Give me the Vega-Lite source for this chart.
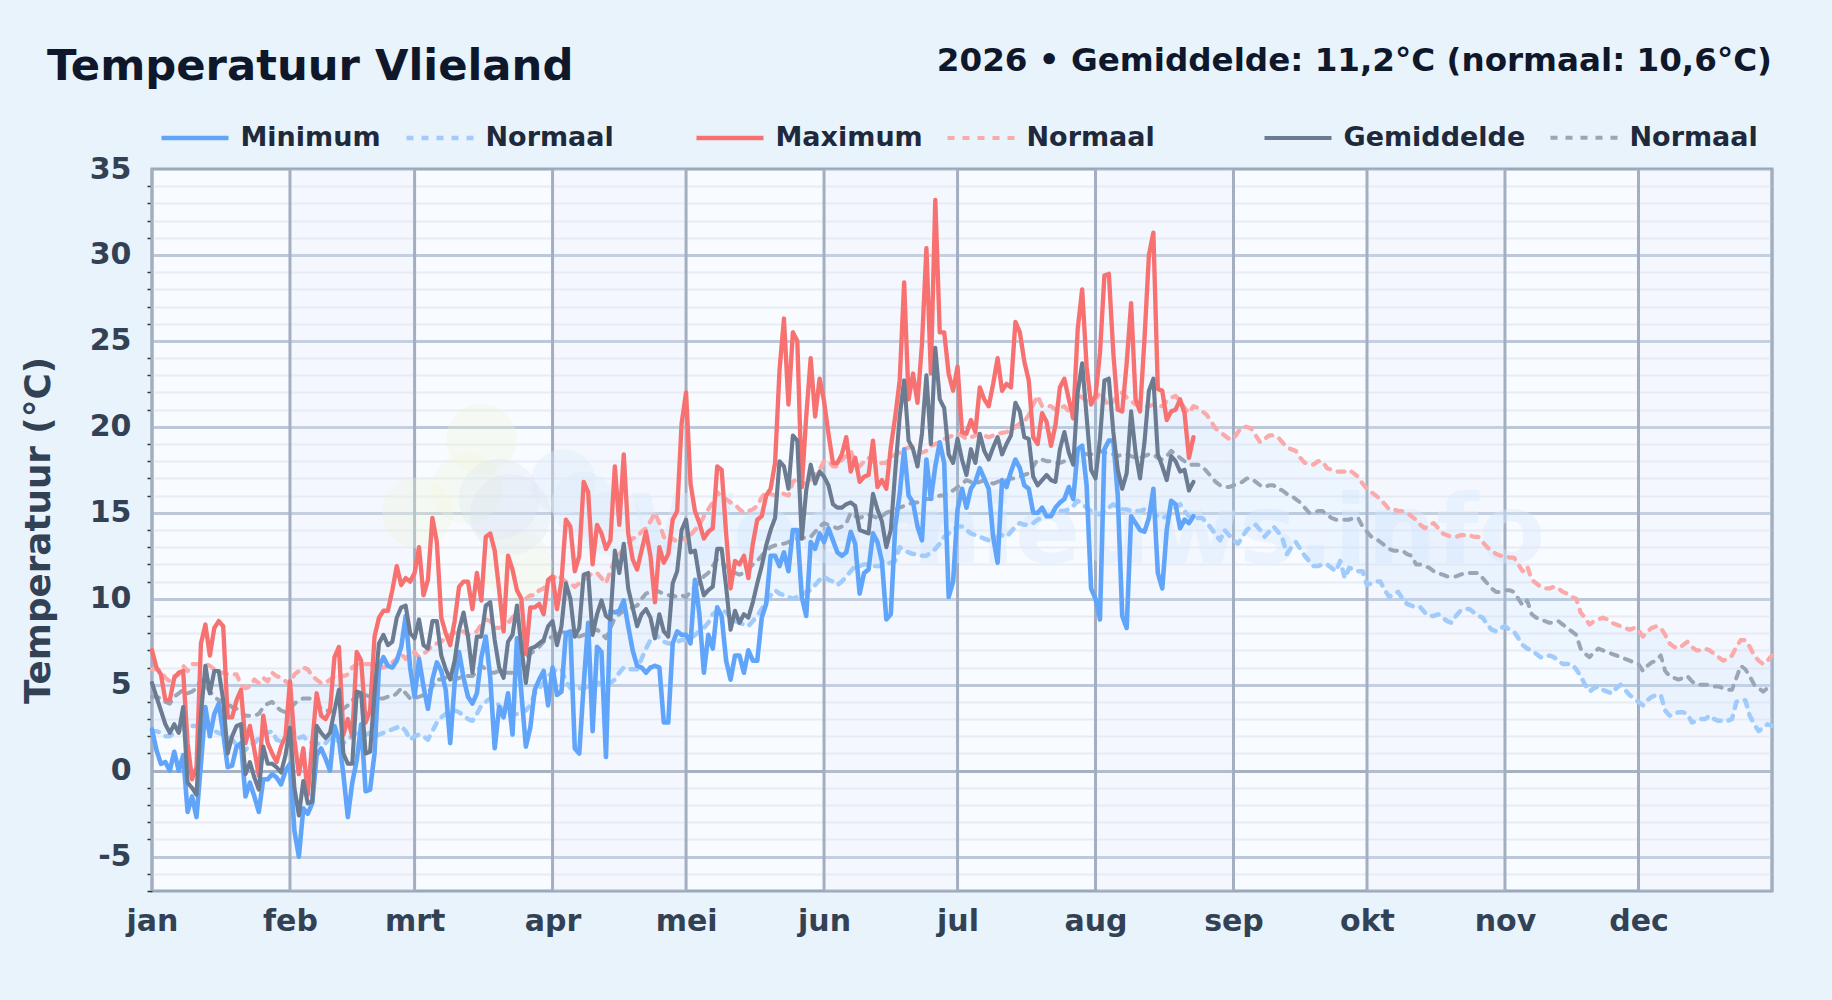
{"$schema":"https://vega.github.io/schema/vega-lite/v6.json","width":1620,"height":722,"autosize":"none","padding":{"left":152,"top":169,"right":60,"bottom":109},"background":"#e8f3fc","view":{"fill":"#f8fbff","stroke":"#9aa8bb","strokeWidth":3},"title":{"text":"Temperatuur Vlieland","anchor":"start","frame":"group","dx":-105,"offset":0,"dy":78,"baseline":"alphabetic","font":"DejaVu Sans","fontSize":43.3,"fontWeight":"bold","color":"#0f172a"},"datasets":{"maanden":[{"van":32,"tot":60},{"van":91,"tot":121},{"van":152,"tot":182},{"van":213,"tot":244},{"van":274,"tot":305},{"van":335,"tot":365}],"lijnen":[{"dag":1},{"dag":32},{"dag":60},{"dag":91},{"dag":121},{"dag":152},{"dag":182},{"dag":213},{"dag":244},{"dag":274},{"dag":305},{"dag":335},{"dag":365}],"groen":[{"dag":75,"t":19.3},{"dag":60.6,"t":15},{"dag":83,"t":11.9},{"dag":71.8,"t":16.4}],"grijs":[{"dag":79,"t":15.8},{"dag":81.5,"t":14.9}],"lichtblauw":[{"dag":93.4,"t":16.8},{"dag":104,"t":14.4},{"dag":98,"t":15.5}],"merk":[{"dag":314,"t":12.1,"tekst":"Weernieuws.info"}],"kop":[{"dag":365,"t":35,"tekst":"2026 • Gemiddelde: 11,2°C (normaal: 10,6°C)"}],"dagen":[
{"dag":1,"min":2.4,"gem":5.1,"max":7,"nmin":2.3,"ngem":4.3,"nmax":5.9},
{"dag":2,"min":1.2,"gem":4.3,"max":6,"nmin":2.3,"ngem":4.3,"nmax":5.9},
{"dag":3,"min":0.4,"gem":3.5,"max":5.6,"nmin":2.2,"ngem":4.2,"nmax":5.8},
{"dag":4,"min":0.5,"gem":2.7,"max":4.1,"nmin":2,"ngem":4,"nmax":5.4},
{"dag":5,"min":0,"gem":2.2,"max":4.1,"nmin":2,"ngem":3.9,"nmax":5.2},
{"dag":6,"min":1.1,"gem":2.7,"max":5.4,"nmin":2.2,"ngem":4.3,"nmax":5.5},
{"dag":7,"min":0,"gem":2.2,"max":5.7,"nmin":2.3,"ngem":4.5,"nmax":5.6},
{"dag":8,"min":0.9,"gem":3.7,"max":5.8,"nmin":2.5,"ngem":4.7,"nmax":6.1},
{"dag":9,"min":-2.4,"gem":-0.7,"max":1.6,"nmin":2.6,"ngem":4.5,"nmax":5.8},
{"dag":10,"min":-1.5,"gem":-1,"max":-0.5,"nmin":2.6,"ngem":4.6,"nmax":6.2},
{"dag":11,"min":-2.7,"gem":-1.4,"max":0.2,"nmin":2.6,"ngem":4.8,"nmax":6.2},
{"dag":12,"min":0.4,"gem":3.3,"max":7.4,"nmin":2.9,"ngem":5.3,"nmax":6.2},
{"dag":13,"min":3.7,"gem":6.1,"max":8.5,"nmin":2.6,"ngem":5,"nmax":6.2},
{"dag":14,"min":2,"gem":4.5,"max":6.7,"nmin":2.4,"ngem":4.6,"nmax":6.1},
{"dag":15,"min":3.3,"gem":5.8,"max":8.3,"nmin":2.3,"ngem":4.3,"nmax":5.9},
{"dag":16,"min":3.9,"gem":5.8,"max":8.7,"nmin":2.2,"ngem":4.1,"nmax":5.7},
{"dag":17,"min":2.2,"gem":4.1,"max":8.4,"nmin":2.1,"ngem":4,"nmax":5.7},
{"dag":18,"min":0.2,"gem":1,"max":3.1,"nmin":2,"ngem":3.9,"nmax":5.6},
{"dag":19,"min":0.3,"gem":2,"max":3.1,"nmin":1.8,"ngem":3.7,"nmax":5.6},
{"dag":20,"min":1.4,"gem":2.6,"max":4.1,"nmin":1.5,"ngem":3.6,"nmax":5.6},
{"dag":21,"min":1.6,"gem":2.7,"max":4.7,"nmin":1.3,"ngem":3.4,"nmax":5},
{"dag":22,"min":-1.5,"gem":-0.2,"max":1.6,"nmin":1.2,"ngem":3.2,"nmax":4.8},
{"dag":23,"min":-0.7,"gem":0.5,"max":2.6,"nmin":1.5,"ngem":3.2,"nmax":4.9},
{"dag":24,"min":-1.5,"gem":-0.4,"max":1.2,"nmin":1.6,"ngem":3.2,"nmax":5.3},
{"dag":25,"min":-2.4,"gem":-1.1,"max":-0.3,"nmin":1.9,"ngem":3.3,"nmax":5.1},
{"dag":26,"min":-0.5,"gem":1.4,"max":3.2,"nmin":2.1,"ngem":3.7,"nmax":5.4},
{"dag":27,"min":-0.5,"gem":0.4,"max":1.6,"nmin":2.2,"ngem":3.9,"nmax":5.2},
{"dag":28,"min":-0.2,"gem":0.4,"max":1,"nmin":2.3,"ngem":4,"nmax":5.7},
{"dag":29,"min":-0.4,"gem":0.2,"max":0.5,"nmin":1.8,"ngem":3.7,"nmax":5.5},
{"dag":30,"min":-0.8,"gem":-0.1,"max":1.4,"nmin":1.7,"ngem":3.5,"nmax":5.4},
{"dag":31,"min":0,"gem":0.9,"max":2,"nmin":1.9,"ngem":3.4,"nmax":5.2},
{"dag":32,"min":0.4,"gem":2.5,"max":5.2,"nmin":2.1,"ngem":3.6,"nmax":5},
{"dag":33,"min":-3.5,"gem":-1,"max":1.8,"nmin":2.1,"ngem":3.9,"nmax":5.6},
{"dag":34,"min":-5,"gem":-2.6,"max":-0.2,"nmin":1.9,"ngem":4.1,"nmax":5.8},
{"dag":35,"min":-2.2,"gem":-0.6,"max":1.3,"nmin":2,"ngem":4.2,"nmax":6},
{"dag":36,"min":-2.5,"gem":-1.9,"max":-1.4,"nmin":1.7,"ngem":4.2,"nmax":5.9},
{"dag":37,"min":-1.9,"gem":-1.8,"max":1.6,"nmin":1.6,"ngem":4.2,"nmax":5.5},
{"dag":38,"min":0.9,"gem":2.6,"max":4.5,"nmin":1.6,"ngem":3.9,"nmax":5.3},
{"dag":39,"min":1.3,"gem":2.2,"max":3.2,"nmin":1.5,"ngem":3.6,"nmax":5.1},
{"dag":40,"min":0.7,"gem":1.9,"max":3,"nmin":1.6,"ngem":3.5,"nmax":5.1},
{"dag":41,"min":0,"gem":2.2,"max":3.5,"nmin":1.9,"ngem":3.5,"nmax":5.3},
{"dag":42,"min":2.6,"gem":3.5,"max":6.6,"nmin":1.8,"ngem":3.4,"nmax":5.5},
{"dag":43,"min":1.8,"gem":4.7,"max":7.2,"nmin":1.7,"ngem":3.5,"nmax":5.6},
{"dag":44,"min":-0.2,"gem":1,"max":2.1,"nmin":1.6,"ngem":3.6,"nmax":5.5},
{"dag":45,"min":-2.7,"gem":0.4,"max":3,"nmin":1.8,"ngem":3.8,"nmax":5.6},
{"dag":46,"min":-0.7,"gem":0.4,"max":2,"nmin":2,"ngem":4.1,"nmax":6},
{"dag":47,"min":0.6,"gem":4.6,"max":6.9,"nmin":2.2,"ngem":4.3,"nmax":6.2},
{"dag":48,"min":2.7,"gem":4.5,"max":6.4,"nmin":2.1,"ngem":4.4,"nmax":6.2},
{"dag":49,"min":-1.2,"gem":1,"max":2.8,"nmin":2.1,"ngem":4.4,"nmax":6.2},
{"dag":50,"min":-1.1,"gem":1.1,"max":3.5,"nmin":2.2,"ngem":4.3,"nmax":6.2},
{"dag":51,"min":1,"gem":4.5,"max":7.8,"nmin":2,"ngem":4.2,"nmax":6},
{"dag":52,"min":6,"gem":7.4,"max":8.9,"nmin":2.1,"ngem":4.2,"nmax":6},
{"dag":53,"min":6.6,"gem":7.9,"max":9.3,"nmin":2.2,"ngem":4.2,"nmax":6},
{"dag":54,"min":6.1,"gem":7.3,"max":9.3,"nmin":2.3,"ngem":4.3,"nmax":6.1},
{"dag":55,"min":6,"gem":7.5,"max":10.5,"nmin":2.4,"ngem":4.3,"nmax":6.3},
{"dag":56,"min":6.4,"gem":8.9,"max":11.9,"nmin":2.5,"ngem":4.5,"nmax":6.5},
{"dag":57,"min":7.2,"gem":9.5,"max":10.8,"nmin":2.6,"ngem":4.8,"nmax":6.8},
{"dag":58,"min":9,"gem":9.6,"max":11.2,"nmin":2.3,"ngem":4.5,"nmax":6.5},
{"dag":59,"min":6,"gem":8,"max":11,"nmin":1.8,"ngem":4.2,"nmax":6.8},
{"dag":60,"min":4.3,"gem":7.7,"max":11.5,"nmin":2,"ngem":4.2,"nmax":6.9},
{"dag":61,"min":6.5,"gem":8.8,"max":13,"nmin":2.1,"ngem":4.3,"nmax":6.6},
{"dag":62,"min":4.9,"gem":7.3,"max":10.2,"nmin":2,"ngem":4.4,"nmax":6.8},
{"dag":63,"min":3.6,"gem":7.1,"max":11.1,"nmin":1.8,"ngem":4.5,"nmax":7},
{"dag":64,"min":5.3,"gem":8.7,"max":14.7,"nmin":2.3,"ngem":4.9,"nmax":7.3},
{"dag":65,"min":6.3,"gem":8.7,"max":13.3,"nmin":2.8,"ngem":5.3,"nmax":7.4},
{"dag":66,"min":5.8,"gem":6.7,"max":8.9,"nmin":3.1,"ngem":5.3,"nmax":7.5},
{"dag":67,"min":4.7,"gem":5.9,"max":8,"nmin":3.3,"ngem":5.4,"nmax":7.8},
{"dag":68,"min":1.6,"gem":5.3,"max":7.3,"nmin":3.5,"ngem":5.3,"nmax":7.9},
{"dag":69,"min":5.1,"gem":6.4,"max":8.7,"nmin":3.5,"ngem":5.3,"nmax":8},
{"dag":70,"min":6.9,"gem":8.2,"max":10.7,"nmin":3.4,"ngem":5.4,"nmax":8.1},
{"dag":71,"min":5.4,"gem":9.2,"max":11,"nmin":3.2,"ngem":5.5,"nmax":8.1},
{"dag":72,"min":4.3,"gem":7.8,"max":11,"nmin":3,"ngem":5.5,"nmax":7.9},
{"dag":73,"min":3.9,"gem":5.7,"max":9.4,"nmin":2.9,"ngem":5.5,"nmax":8},
{"dag":74,"min":4.5,"gem":7.8,"max":11.5,"nmin":3.3,"ngem":5.8,"nmax":8.1},
{"dag":75,"min":6.6,"gem":7.8,"max":9.9,"nmin":3.8,"ngem":6.1,"nmax":8.5},
{"dag":76,"min":7.8,"gem":9.6,"max":13.6,"nmin":4,"ngem":5.9,"nmax":8.8},
{"dag":77,"min":5.4,"gem":9.8,"max":13.8,"nmin":4.2,"ngem":5.7,"nmax":8.7},
{"dag":78,"min":1.3,"gem":7.6,"max":12.8,"nmin":4,"ngem":5.7,"nmax":8.3},
{"dag":79,"min":3.7,"gem":6,"max":10.5,"nmin":3.8,"ngem":5.8,"nmax":8.3},
{"dag":80,"min":3.1,"gem":5.4,"max":8.1,"nmin":3.5,"ngem":5.7,"nmax":8.4},
{"dag":81,"min":4.5,"gem":7.5,"max":12.5,"nmin":3.4,"ngem":5.7,"nmax":8.6},
{"dag":82,"min":2.1,"gem":7.9,"max":11.7,"nmin":3.3,"ngem":5.7,"nmax":8.9},
{"dag":83,"min":7.7,"gem":9.6,"max":10.5,"nmin":3.3,"ngem":5.9,"nmax":9.2},
{"dag":84,"min":4.5,"gem":7.2,"max":10,"nmin":3.4,"ngem":6.2,"nmax":9.8},
{"dag":85,"min":1.4,"gem":5.1,"max":6.8,"nmin":3.5,"ngem":6.5,"nmax":10},
{"dag":86,"min":2.5,"gem":7.1,"max":9.5,"nmin":3.8,"ngem":6.8,"nmax":10.2},
{"dag":87,"min":4.7,"gem":7.2,"max":9.5,"nmin":4.5,"ngem":7,"nmax":10.2},
{"dag":88,"min":5.3,"gem":7.4,"max":9.7,"nmin":4.8,"ngem":7.2,"nmax":10.5},
{"dag":89,"min":5.8,"gem":7.6,"max":9.1,"nmin":5.1,"ngem":7.5,"nmax":10.6},
{"dag":90,"min":3.8,"gem":8.4,"max":11.1,"nmin":5.5,"ngem":7.7,"nmax":11},
{"dag":91,"min":6,"gem":8.7,"max":11.3,"nmin":5.7,"ngem":7.8,"nmax":11.1},
{"dag":92,"min":4.4,"gem":7.3,"max":9.4,"nmin":5.9,"ngem":8,"nmax":11.4},
{"dag":93,"min":4.6,"gem":8.4,"max":11,"nmin":5.9,"ngem":8.1,"nmax":11.2},
{"dag":94,"min":8,"gem":10.9,"max":14.6,"nmin":5.2,"ngem":8,"nmax":11},
{"dag":95,"min":8.1,"gem":10,"max":14.2,"nmin":4.8,"ngem":7.9,"nmax":10.9},
{"dag":96,"min":1.3,"gem":7.8,"max":11.6,"nmin":4.7,"ngem":7.8,"nmax":10.7},
{"dag":97,"min":1,"gem":8.3,"max":12.5,"nmin":4.8,"ngem":7.8,"nmax":10.9},
{"dag":98,"min":5,"gem":11.4,"max":16.8,"nmin":4.8,"ngem":7.9,"nmax":11.1},
{"dag":99,"min":8.6,"gem":11.5,"max":16.2,"nmin":4.9,"ngem":8,"nmax":11.3},
{"dag":100,"min":2.3,"gem":7.9,"max":12,"nmin":5,"ngem":8.1,"nmax":11.5},
{"dag":101,"min":7.2,"gem":9.1,"max":14.3,"nmin":5.1,"ngem":8.2,"nmax":11.5},
{"dag":102,"min":6.9,"gem":9.9,"max":13.8,"nmin":5.1,"ngem":8,"nmax":11.2},
{"dag":103,"min":0.8,"gem":9,"max":12.9,"nmin":5,"ngem":7.7,"nmax":10.9},
{"dag":104,"min":9.3,"gem":8.8,"max":13.4,"nmin":5.1,"ngem":8.3,"nmax":11.6},
{"dag":105,"min":9.2,"gem":12.8,"max":17.7,"nmin":5.3,"ngem":8.9,"nmax":12.3},
{"dag":106,"min":9.3,"gem":11.5,"max":14.3,"nmin":5.7,"ngem":9.1,"nmax":12.6},
{"dag":107,"min":9.9,"gem":13.2,"max":18.4,"nmin":6,"ngem":9.3,"nmax":12.9},
{"dag":108,"min":8.4,"gem":10.6,"max":13.8,"nmin":5.9,"ngem":9.4,"nmax":13.2},
{"dag":109,"min":7,"gem":9.5,"max":12.3,"nmin":5.9,"ngem":9.5,"nmax":13.5},
{"dag":110,"min":6.1,"gem":8.4,"max":11.7,"nmin":5.9,"ngem":9.6,"nmax":13.6},
{"dag":111,"min":6,"gem":9.1,"max":12.8,"nmin":6.5,"ngem":10,"nmax":13.9},
{"dag":112,"min":5.7,"gem":9.4,"max":13.9,"nmin":7.1,"ngem":10.3,"nmax":14.1},
{"dag":113,"min":6,"gem":8.9,"max":12.5,"nmin":7.6,"ngem":10.4,"nmax":14.5},
{"dag":114,"min":6.1,"gem":7.7,"max":9.8,"nmin":8,"ngem":10.5,"nmax":15},
{"dag":115,"min":6,"gem":9.1,"max":13,"nmin":7.7,"ngem":10.4,"nmax":14.4},
{"dag":116,"min":2.8,"gem":8.1,"max":12.1,"nmin":7.5,"ngem":10.3,"nmax":13.6},
{"dag":117,"min":2.8,"gem":7.8,"max":12.6,"nmin":7.4,"ngem":10.2,"nmax":13.3},
{"dag":118,"min":7.4,"gem":10.9,"max":14.6,"nmin":7.4,"ngem":10.2,"nmax":13.5},
{"dag":119,"min":8.1,"gem":11.6,"max":15.1,"nmin":7.5,"ngem":10.1,"nmax":13.3},
{"dag":120,"min":7.9,"gem":14,"max":20.2,"nmin":7.6,"ngem":10.2,"nmax":13.6},
{"dag":121,"min":7.9,"gem":14.6,"max":22,"nmin":7.6,"ngem":10.1,"nmax":13.4},
{"dag":122,"min":7.4,"gem":12.7,"max":16.7,"nmin":7.7,"ngem":10.4,"nmax":13.7},
{"dag":123,"min":11.1,"gem":12.8,"max":15.1,"nmin":7.9,"ngem":10.7,"nmax":14},
{"dag":124,"min":9.1,"gem":11.2,"max":14.4,"nmin":8.1,"ngem":11,"nmax":14.3},
{"dag":125,"min":5.7,"gem":10.2,"max":13.5,"nmin":8.3,"ngem":11.3,"nmax":14.8},
{"dag":126,"min":7.9,"gem":10.5,"max":13.9,"nmin":8.6,"ngem":11.5,"nmax":15.2},
{"dag":127,"min":7.1,"gem":10.7,"max":14.1,"nmin":9.1,"ngem":11.9,"nmax":15.6},
{"dag":128,"min":9.5,"gem":12.9,"max":17.7,"nmin":9.3,"ngem":12.3,"nmax":16.2},
{"dag":129,"min":9,"gem":12.9,"max":17.5,"nmin":9.4,"ngem":12.1,"nmax":15.9},
{"dag":130,"min":6.4,"gem":10.7,"max":13.8,"nmin":9.2,"ngem":11.9,"nmax":15.8},
{"dag":131,"min":5.3,"gem":8.2,"max":10.6,"nmin":8.9,"ngem":11.7,"nmax":15.6},
{"dag":132,"min":6.7,"gem":9.3,"max":12.2,"nmin":8.7,"ngem":11.5,"nmax":15.5},
{"dag":133,"min":6.7,"gem":8.6,"max":12,"nmin":8.6,"ngem":11.4,"nmax":15.2},
{"dag":134,"min":5.7,"gem":9.1,"max":12.5,"nmin":8.5,"ngem":11.5,"nmax":15},
{"dag":135,"min":7,"gem":8.9,"max":11.2,"nmin":8.4,"ngem":11.7,"nmax":15.1},
{"dag":136,"min":6.4,"gem":9.8,"max":13.2,"nmin":8.7,"ngem":12,"nmax":15.2},
{"dag":137,"min":6.4,"gem":10.9,"max":14.6,"nmin":9,"ngem":12.2,"nmax":15.4},
{"dag":138,"min":8.9,"gem":11.9,"max":14.8,"nmin":9.4,"ngem":12.5,"nmax":15.9},
{"dag":139,"min":9.7,"gem":13.1,"max":16,"nmin":9.8,"ngem":12.8,"nmax":16.2},
{"dag":140,"min":12.5,"gem":14,"max":16.4,"nmin":10.2,"ngem":13,"nmax":16.1},
{"dag":141,"min":12.5,"gem":14.7,"max":17.9,"nmin":10.5,"ngem":13.1,"nmax":16},
{"dag":142,"min":11.9,"gem":18,"max":23.3,"nmin":10.3,"ngem":13.2,"nmax":16.2},
{"dag":143,"min":12.7,"gem":17.7,"max":26.3,"nmin":10.2,"ngem":13.2,"nmax":16.1},
{"dag":144,"min":11.6,"gem":16.4,"max":21.3,"nmin":10.1,"ngem":13.3,"nmax":16},
{"dag":145,"min":14,"gem":19.5,"max":25.5,"nmin":10,"ngem":13.4,"nmax":16.8},
{"dag":146,"min":14,"gem":19.2,"max":25,"nmin":10.1,"ngem":13.5,"nmax":17},
{"dag":147,"min":10.1,"gem":13.5,"max":16.5,"nmin":10.2,"ngem":13.5,"nmax":16.6},
{"dag":148,"min":9,"gem":16.3,"max":20.6,"nmin":10.4,"ngem":13.6,"nmax":16.8},
{"dag":149,"min":13.3,"gem":17.8,"max":24,"nmin":10.5,"ngem":13.6,"nmax":16.9},
{"dag":150,"min":12.9,"gem":16.7,"max":20.6,"nmin":10.8,"ngem":13.9,"nmax":17.2},
{"dag":151,"min":13.8,"gem":17.4,"max":22.8,"nmin":11.1,"ngem":14.2,"nmax":17.5},
{"dag":152,"min":13.3,"gem":17.1,"max":21.5,"nmin":11.3,"ngem":14.4,"nmax":18},
{"dag":153,"min":14.1,"gem":16.6,"max":19.6,"nmin":11.1,"ngem":14.3,"nmax":18},
{"dag":154,"min":13.4,"gem":15.5,"max":17.9,"nmin":11,"ngem":14.2,"nmax":17.7},
{"dag":155,"min":12.7,"gem":15.3,"max":17.9,"nmin":10.8,"ngem":14.1,"nmax":17.7},
{"dag":156,"min":12.5,"gem":15.3,"max":18.4,"nmin":11,"ngem":14.2,"nmax":18.1},
{"dag":157,"min":12.7,"gem":15.5,"max":19.4,"nmin":11.3,"ngem":14.4,"nmax":18.3},
{"dag":158,"min":13.9,"gem":15.6,"max":17.4,"nmin":11.6,"ngem":15,"nmax":18.6},
{"dag":159,"min":13.2,"gem":15.4,"max":18.2,"nmin":11.9,"ngem":14.8,"nmax":17.9},
{"dag":160,"min":10.3,"gem":14,"max":16.8,"nmin":11.9,"ngem":14.7,"nmax":17.7},
{"dag":161,"min":11.5,"gem":13.9,"max":17.1,"nmin":12,"ngem":14.8,"nmax":18},
{"dag":162,"min":11.7,"gem":13.8,"max":17.2,"nmin":12,"ngem":14.9,"nmax":18.2},
{"dag":163,"min":13.8,"gem":16.1,"max":19.2,"nmin":11.9,"ngem":14.8,"nmax":18},
{"dag":164,"min":13.3,"gem":15.2,"max":16.5,"nmin":11.9,"ngem":14.7,"nmax":17.8},
{"dag":165,"min":12.2,"gem":14.5,"max":16.9,"nmin":11.9,"ngem":14.8,"nmax":17.9},
{"dag":166,"min":8.8,"gem":13,"max":16.4,"nmin":12,"ngem":15,"nmax":17.9},
{"dag":167,"min":9.1,"gem":14,"max":18.8,"nmin":12.1,"ngem":15.1,"nmax":18.2},
{"dag":168,"min":14.2,"gem":17.4,"max":20.6,"nmin":12.2,"ngem":15.2,"nmax":18.4},
{"dag":169,"min":16.1,"gem":20.6,"max":22.7,"nmin":13,"ngem":15.3,"nmax":18.5},
{"dag":170,"min":18.7,"gem":22.7,"max":28.4,"nmin":12.8,"ngem":15.4,"nmax":18.7},
{"dag":171,"min":16,"gem":19.2,"max":21.6,"nmin":12.7,"ngem":15.5,"nmax":18.8},
{"dag":172,"min":15.6,"gem":18.7,"max":23.1,"nmin":12.6,"ngem":15.6,"nmax":18.8},
{"dag":173,"min":14.2,"gem":17.7,"max":21.4,"nmin":12.6,"ngem":15.6,"nmax":18.6},
{"dag":174,"min":13.4,"gem":19.6,"max":24.8,"nmin":12.5,"ngem":15.7,"nmax":18.5},
{"dag":175,"min":18.1,"gem":23,"max":30.4,"nmin":12.5,"ngem":15.8,"nmax":18.6},
{"dag":176,"min":15.8,"gem":19,"max":23.1,"nmin":12.7,"ngem":15.8,"nmax":18.9},
{"dag":177,"min":17.7,"gem":24.6,"max":33.2,"nmin":12.9,"ngem":15.9,"nmax":19},
{"dag":178,"min":19.1,"gem":21.6,"max":25.5,"nmin":13.2,"ngem":16,"nmax":19.1},
{"dag":179,"min":17.9,"gem":21.1,"max":25.5,"nmin":13.6,"ngem":16,"nmax":19.3},
{"dag":180,"min":10.1,"gem":18.4,"max":23.1,"nmin":13.8,"ngem":16.2,"nmax":19.4},
{"dag":181,"min":11,"gem":17.9,"max":22.1,"nmin":14,"ngem":16.3,"nmax":19.5},
{"dag":182,"min":15.2,"gem":19.3,"max":23.5,"nmin":14.2,"ngem":16.5,"nmax":19.6},
{"dag":183,"min":16.4,"gem":18.1,"max":19.7,"nmin":14.2,"ngem":16.7,"nmax":19.5},
{"dag":184,"min":15.3,"gem":17.2,"max":19.6,"nmin":14,"ngem":16.9,"nmax":19.3},
{"dag":185,"min":16.4,"gem":18.7,"max":20.4,"nmin":13.8,"ngem":16.8,"nmax":19.4},
{"dag":186,"min":16.8,"gem":17.9,"max":19.7,"nmin":13.7,"ngem":16.7,"nmax":19.5},
{"dag":187,"min":17.6,"gem":19.6,"max":22.3,"nmin":13.6,"ngem":16.8,"nmax":19.6},
{"dag":188,"min":17,"gem":18.6,"max":21.6,"nmin":13.5,"ngem":16.9,"nmax":19.5},
{"dag":189,"min":16.4,"gem":18.1,"max":21.2,"nmin":13.4,"ngem":16.8,"nmax":19.4},
{"dag":190,"min":13.6,"gem":18.8,"max":22.5,"nmin":13.5,"ngem":16.7,"nmax":19.5},
{"dag":191,"min":12.1,"gem":19.4,"max":24,"nmin":13.6,"ngem":16.8,"nmax":19.6},
{"dag":192,"min":16.9,"gem":18.4,"max":22.1,"nmin":13.7,"ngem":16.9,"nmax":19.65},
{"dag":193,"min":16.5,"gem":19,"max":22.5,"nmin":13.6,"ngem":16.9,"nmax":19.7},
{"dag":194,"min":17.4,"gem":19.5,"max":22.3,"nmin":13.9,"ngem":17,"nmax":19.8},
{"dag":195,"min":18.1,"gem":21.4,"max":26.1,"nmin":14.2,"ngem":17,"nmax":20},
{"dag":196,"min":17.6,"gem":20.9,"max":25.5,"nmin":14.4,"ngem":17.1,"nmax":20.2},
{"dag":197,"min":16.6,"gem":19.4,"max":23.8,"nmin":14.3,"ngem":17.2,"nmax":20.3},
{"dag":198,"min":16.4,"gem":19.3,"max":22.7,"nmin":14.3,"ngem":17.3,"nmax":20.7},
{"dag":199,"min":15,"gem":17.1,"max":19.4,"nmin":14.4,"ngem":17.7,"nmax":21.3},
{"dag":200,"min":15,"gem":16.6,"max":19,"nmin":14.6,"ngem":18.1,"nmax":21.8},
{"dag":201,"min":15.3,"gem":16.9,"max":20.8,"nmin":14.7,"ngem":18.1,"nmax":21.2},
{"dag":202,"min":14.8,"gem":17.2,"max":20.3,"nmin":14.8,"ngem":18,"nmax":21.2},
{"dag":203,"min":14.8,"gem":16.9,"max":18.9,"nmin":14.9,"ngem":18,"nmax":21.2},
{"dag":204,"min":15.3,"gem":16.8,"max":20.1,"nmin":15,"ngem":17.9,"nmax":21},
{"dag":205,"min":15.6,"gem":18.7,"max":22.3,"nmin":15.1,"ngem":17.9,"nmax":21.1},
{"dag":206,"min":15.8,"gem":19.7,"max":22.8,"nmin":15.1,"ngem":18,"nmax":21.2},
{"dag":207,"min":16.5,"gem":18.5,"max":21.6,"nmin":15.2,"ngem":18.2,"nmax":20.9},
{"dag":208,"min":15.8,"gem":17.8,"max":20.5,"nmin":15.4,"ngem":18.3,"nmax":20.5},
{"dag":209,"min":18.7,"gem":22,"max":25.7,"nmin":15.7,"ngem":18.4,"nmax":21.9},
{"dag":210,"min":18.9,"gem":23.7,"max":28,"nmin":15.5,"ngem":18.5,"nmax":21.7},
{"dag":211,"min":16.6,"gem":20.6,"max":23.5,"nmin":15.3,"ngem":18.4,"nmax":21.5},
{"dag":212,"min":10.6,"gem":17.5,"max":21.3,"nmin":15.1,"ngem":18.4,"nmax":21.5},
{"dag":213,"min":10,"gem":17,"max":21.8,"nmin":15,"ngem":18.5,"nmax":21.6},
{"dag":214,"min":8.8,"gem":19.3,"max":24.3,"nmin":14.9,"ngem":18.6,"nmax":22},
{"dag":215,"min":18.7,"gem":22.7,"max":28.8,"nmin":15.1,"ngem":18.5,"nmax":21.6},
{"dag":216,"min":19.2,"gem":22.8,"max":28.9,"nmin":15.3,"ngem":18.5,"nmax":21.2},
{"dag":217,"min":19.2,"gem":19.7,"max":24.3,"nmin":15.5,"ngem":18.4,"nmax":21.5},
{"dag":218,"min":16,"gem":17.5,"max":21,"nmin":15.3,"ngem":18.3,"nmax":21.8},
{"dag":219,"min":9,"gem":16.4,"max":20.9,"nmin":15.2,"ngem":18.4,"nmax":22},
{"dag":220,"min":8.3,"gem":17.3,"max":23.7,"nmin":15.2,"ngem":18.4,"nmax":21.7},
{"dag":221,"min":14.8,"gem":20.9,"max":27.2,"nmin":15.1,"ngem":18.3,"nmax":21.5},
{"dag":222,"min":14.4,"gem":18.5,"max":21.6,"nmin":15.1,"ngem":18.2,"nmax":21.3},
{"dag":223,"min":14,"gem":17,"max":20.9,"nmin":15.1,"ngem":18.2,"nmax":21.2},
{"dag":224,"min":13.9,"gem":19.1,"max":25.1,"nmin":15.2,"ngem":18.3,"nmax":21.2},
{"dag":225,"min":14.7,"gem":22.1,"max":30,"nmin":15.2,"ngem":18.4,"nmax":21.2},
{"dag":226,"min":16.4,"gem":22.8,"max":31.3,"nmin":15,"ngem":18.4,"nmax":21.3},
{"dag":227,"min":11.5,"gem":18.4,"max":22.2,"nmin":14.8,"ngem":18.2,"nmax":21.2},
{"dag":228,"min":10.6,"gem":17.7,"max":22.1,"nmin":14.7,"ngem":18.1,"nmax":21.2},
{"dag":229,"min":14,"gem":16.9,"max":20.4,"nmin":14.8,"ngem":18.3,"nmax":21.5},
{"dag":230,"min":15.7,"gem":18.3,"max":20.9,"nmin":15,"ngem":18.6,"nmax":21.7},
{"dag":231,"min":15.5,"gem":18,"max":21,"nmin":15.3,"ngem":18.4,"nmax":21.8},
{"dag":232,"min":14.1,"gem":17.4,"max":21.6,"nmin":15.5,"ngem":18.2,"nmax":21.5},
{"dag":233,"min":14.6,"gem":17.5,"max":20.8,"nmin":15.1,"ngem":18,"nmax":21.1},
{"dag":234,"min":14.4,"gem":16.3,"max":18.2,"nmin":14.8,"ngem":17.8,"nmax":20.8},
{"dag":235,"min":14.8,"gem":16.8,"max":19.4,"nmin":14.7,"ngem":17.8,"nmax":21.2},
{"dag":236,"nmin":14.7,"ngem":17.8,"nmax":21.1},
{"dag":237,"nmin":14.7,"ngem":17.7,"nmax":20.9},
{"dag":238,"nmin":14.4,"ngem":17.4,"nmax":20.7},
{"dag":239,"nmin":14.1,"ngem":17.1,"nmax":20.3},
{"dag":240,"nmin":13.7,"ngem":16.8,"nmax":19.9},
{"dag":241,"nmin":13.4,"ngem":16.6,"nmax":19.7},
{"dag":242,"nmin":14,"ngem":16.5,"nmax":19.5},
{"dag":243,"nmin":13.7,"ngem":16.5,"nmax":19.3},
{"dag":244,"nmin":13.4,"ngem":16.6,"nmax":19.3},
{"dag":245,"nmin":13.2,"ngem":16.7,"nmax":19.7},
{"dag":246,"nmin":13.6,"ngem":16.8,"nmax":20},
{"dag":247,"nmin":14,"ngem":17,"nmax":20},
{"dag":248,"nmin":14.2,"ngem":17,"nmax":19.9},
{"dag":249,"nmin":14.3,"ngem":16.8,"nmax":19.5},
{"dag":250,"nmin":14,"ngem":16.6,"nmax":19.1},
{"dag":251,"nmin":13.6,"ngem":16.5,"nmax":19.3},
{"dag":252,"nmin":13.9,"ngem":16.6,"nmax":19.5},
{"dag":253,"nmin":14.2,"ngem":16.6,"nmax":19.5},
{"dag":254,"nmin":13.9,"ngem":16.4,"nmax":19.4},
{"dag":255,"nmin":13.5,"ngem":16.3,"nmax":19.1},
{"dag":256,"nmin":12.6,"ngem":16.1,"nmax":18.8},
{"dag":257,"nmin":13,"ngem":16,"nmax":18.7},
{"dag":258,"nmin":13.3,"ngem":15.8,"nmax":18.6},
{"dag":259,"nmin":12.9,"ngem":15.6,"nmax":18.2},
{"dag":260,"nmin":12.5,"ngem":15.3,"nmax":17.9},
{"dag":261,"nmin":12.2,"ngem":15,"nmax":17.9},
{"dag":262,"nmin":11.9,"ngem":15,"nmax":17.8},
{"dag":263,"nmin":11.9,"ngem":15.1,"nmax":18},
{"dag":264,"nmin":12,"ngem":15.1,"nmax":18},
{"dag":265,"nmin":12,"ngem":14.9,"nmax":17.6},
{"dag":266,"nmin":11.8,"ngem":14.7,"nmax":17.5},
{"dag":267,"nmin":11.6,"ngem":14.6,"nmax":17.4},
{"dag":268,"nmin":12.2,"ngem":14.6,"nmax":17.4},
{"dag":269,"nmin":11.2,"ngem":14.6,"nmax":17.4},
{"dag":270,"nmin":11.8,"ngem":14.6,"nmax":17.5},
{"dag":271,"nmin":11.7,"ngem":14.7,"nmax":17.3},
{"dag":272,"nmin":11.6,"ngem":14.7,"nmax":17.1},
{"dag":273,"nmin":11.6,"ngem":14.2,"nmax":16.7},
{"dag":274,"nmin":10.8,"ngem":13.9,"nmax":16.4},
{"dag":275,"nmin":10.9,"ngem":13.6,"nmax":16.2},
{"dag":276,"nmin":11,"ngem":13.5,"nmax":16},
{"dag":277,"nmin":11,"ngem":13.3,"nmax":15.8},
{"dag":278,"nmin":10.5,"ngem":13.1,"nmax":15.5},
{"dag":279,"nmin":10.1,"ngem":12.9,"nmax":15.2},
{"dag":280,"nmin":10.3,"ngem":12.8,"nmax":15.2},
{"dag":281,"nmin":10.4,"ngem":12.8,"nmax":15.1},
{"dag":282,"nmin":10,"ngem":12.8,"nmax":15.1},
{"dag":283,"nmin":9.7,"ngem":12.6,"nmax":15},
{"dag":284,"nmin":9.6,"ngem":12.5,"nmax":14.8},
{"dag":285,"nmin":9.5,"ngem":12,"nmax":14.6},
{"dag":286,"nmin":9.5,"ngem":12,"nmax":14.3},
{"dag":287,"nmin":9.2,"ngem":11.9,"nmax":14.1},
{"dag":288,"nmin":9,"ngem":11.8,"nmax":14.3},
{"dag":289,"nmin":9,"ngem":11.6,"nmax":14.4},
{"dag":290,"nmin":9.1,"ngem":11.5,"nmax":14.1},
{"dag":291,"nmin":8.9,"ngem":11.4,"nmax":13.8},
{"dag":292,"nmin":8.7,"ngem":11.3,"nmax":13.7},
{"dag":293,"nmin":8.6,"ngem":11.3,"nmax":13.6},
{"dag":294,"nmin":9,"ngem":11.3,"nmax":13.6},
{"dag":295,"nmin":9.3,"ngem":11.4,"nmax":13.7},
{"dag":296,"nmin":9.4,"ngem":11.5,"nmax":13.7},
{"dag":297,"nmin":9.4,"ngem":11.5,"nmax":13.7},
{"dag":298,"nmin":9.2,"ngem":11.5,"nmax":13.6},
{"dag":299,"nmin":9,"ngem":11.5,"nmax":13.6},
{"dag":300,"nmin":8.9,"ngem":11.2,"nmax":13.3},
{"dag":301,"nmin":8.5,"ngem":10.9,"nmax":13},
{"dag":302,"nmin":8.2,"ngem":10.6,"nmax":12.8},
{"dag":303,"nmin":8.1,"ngem":10.4,"nmax":12.6},
{"dag":304,"nmin":8.3,"ngem":10.4,"nmax":12.5},
{"dag":305,"nmin":8.4,"ngem":10.5,"nmax":12.5},
{"dag":306,"nmin":8.2,"ngem":10.5,"nmax":12.4},
{"dag":307,"nmin":8.1,"ngem":10.4,"nmax":12.4},
{"dag":308,"nmin":7.7,"ngem":10,"nmax":12},
{"dag":309,"nmin":7.3,"ngem":9.6,"nmax":11.6},
{"dag":310,"nmin":7.1,"ngem":9.9,"nmax":11.9},
{"dag":311,"nmin":7,"ngem":9.1,"nmax":11.1},
{"dag":312,"nmin":6.8,"ngem":8.9,"nmax":10.9},
{"dag":313,"nmin":6.6,"ngem":8.8,"nmax":10.7},
{"dag":314,"nmin":6.6,"ngem":8.7,"nmax":10.6},
{"dag":315,"nmin":6.7,"ngem":8.6,"nmax":10.6},
{"dag":316,"nmin":6.6,"ngem":8.6,"nmax":10.7},
{"dag":317,"nmin":6.4,"ngem":8.7,"nmax":10.6},
{"dag":318,"nmin":6.2,"ngem":8.5,"nmax":10.4},
{"dag":319,"nmin":6.2,"ngem":8.3,"nmax":10.3},
{"dag":320,"nmin":6.2,"ngem":8.1,"nmax":10.1},
{"dag":321,"nmin":5.9,"ngem":7.9,"nmax":10},
{"dag":322,"nmin":5.5,"ngem":7.1,"nmax":9.2},
{"dag":323,"nmin":5,"ngem":6.8,"nmax":8.9},
{"dag":324,"nmin":4.6,"ngem":6.6,"nmax":8.5},
{"dag":325,"nmin":4.8,"ngem":6.9,"nmax":8.7},
{"dag":326,"nmin":4.9,"ngem":7.1,"nmax":8.8},
{"dag":327,"nmin":4.7,"ngem":7,"nmax":8.9},
{"dag":328,"nmin":4.6,"ngem":6.9,"nmax":8.8},
{"dag":329,"nmin":4.5,"ngem":6.8,"nmax":8.6},
{"dag":330,"nmin":4.8,"ngem":6.7,"nmax":8.5},
{"dag":331,"nmin":5,"ngem":6.6,"nmax":8.4},
{"dag":332,"nmin":4.7,"ngem":6.5,"nmax":8.3},
{"dag":333,"nmin":4.4,"ngem":6.4,"nmax":8.2},
{"dag":334,"nmin":4.2,"ngem":6.3,"nmax":8.3},
{"dag":335,"nmin":4,"ngem":6.2,"nmax":8.2},
{"dag":336,"nmin":3.8,"ngem":5.8,"nmax":7.8},
{"dag":337,"nmin":4.1,"ngem":6.1,"nmax":8.1},
{"dag":338,"nmin":4.3,"ngem":6.3,"nmax":8.3},
{"dag":339,"nmin":4.4,"ngem":6.4,"nmax":8.4},
{"dag":340,"nmin":4.4,"ngem":6.7,"nmax":8.3},
{"dag":341,"nmin":3.5,"ngem":5.8,"nmax":7.9},
{"dag":342,"nmin":3.2,"ngem":5.5,"nmax":7.4},
{"dag":343,"nmin":3.3,"ngem":5.4,"nmax":7.2},
{"dag":344,"nmin":3.4,"ngem":5.3,"nmax":7.1},
{"dag":345,"nmin":3.4,"ngem":5.4,"nmax":7.3},
{"dag":346,"nmin":3.3,"ngem":5.5,"nmax":7.5},
{"dag":347,"nmin":2.8,"ngem":5.2,"nmax":7.2},
{"dag":348,"nmin":2.9,"ngem":5,"nmax":7},
{"dag":349,"nmin":3,"ngem":5,"nmax":7},
{"dag":350,"nmin":3,"ngem":5,"nmax":7.1},
{"dag":351,"nmin":3.2,"ngem":5,"nmax":7},
{"dag":352,"nmin":3,"ngem":4.9,"nmax":6.8},
{"dag":353,"nmin":2.9,"ngem":4.9,"nmax":6.6},
{"dag":354,"nmin":2.9,"ngem":4.8,"nmax":6.4},
{"dag":355,"nmin":2.9,"ngem":4.7,"nmax":6.5},
{"dag":356,"nmin":3,"ngem":4.7,"nmax":6.7},
{"dag":357,"nmin":4,"ngem":5.4,"nmax":7.2},
{"dag":358,"nmin":4.1,"ngem":6.1,"nmax":7.6},
{"dag":359,"nmin":4.1,"ngem":5.9,"nmax":7.6},
{"dag":360,"nmin":3.2,"ngem":5.5,"nmax":7.2},
{"dag":361,"nmin":2.7,"ngem":5,"nmax":6.7},
{"dag":362,"nmin":2.3,"ngem":4.8,"nmax":6.4},
{"dag":363,"nmin":2.5,"ngem":4.6,"nmax":6.2},
{"dag":364,"nmin":2.7,"ngem":4.8,"nmax":6.4},
{"dag":365,"nmin":2.6,"ngem":5,"nmax":6.7}
]},"layer":[
{"data":{"name":"maanden"},"mark":{"type":"rect","color":"#e6e9fb","opacity":0.2},"encoding":{"x":{"field":"van","type":"quantitative","scale":{"domain":[1,365],"nice":false,"zero":false},"axis":{"values":[1,32,60,91,121,152,182,213,244,274,305,335],"tickCount":100,"title":null,"labelExpr":"['jan','feb','mrt','apr','mei','jun','jul','aug','sep','okt','nov','dec'][indexof([1,32,60,91,121,152,182,213,244,274,305,335],datum.value)]","labelFont":"DejaVu Sans","labelFontSize":30,"labelFontWeight":"bold","labelColor":"#334155","labelPadding":15,"ticks":false,"domain":false,"labelOverlap":false,"labelFlush":false,"grid":false}},"x2":{"field":"tot"},"y":{"datum":-7,"type":"quantitative","scale":{"domain":[-7,35],"nice":false,"zero":false},"axis":{"values":[-7,-6,-5,-4,-3,-2,-1,0,1,2,3,4,5,6,7,8,9,10,11,12,13,14,15,16,17,18,19,20,21,22,23,24,25,26,27,28,29,30,31,32,33,34,35],"tickCount":100,"title":"Temperatuur (°C)","titleFont":"DejaVu Sans","titleFontSize":35.7,"titleFontWeight":"bold","titleColor":"#334155","titlePadding":33,"labelExpr":"datum.value % 5 === 0 ? '' + datum.value : ''","labelFont":"DejaVu Sans","labelFontSize":30,"labelFontWeight":"bold","labelColor":"#334155","labelPadding":16,"labelOverlap":false,"labelFlush":false,"domain":false,"tickColor":"#333333","tickSize":5,"tickWidth":1.5,"tickOpacity":{"condition":{"test":"datum.value % 5 === 0","value":0},"value":1},"grid":true,"gridOpacity":{"condition":{"test":"datum.value === 35 || datum.value === -7","value":0},"value":1},"gridColor":{"condition":[{"test":"datum.value === 0","value":"#a5b1c3"},{"test":"datum.value % 5 === 0","value":"#bcc8d9"}],"value":"#e8ecf3"},"gridWidth":{"condition":{"test":"datum.value % 5 === 0","value":3},"value":2}}},"y2":{"datum":35}}},
{"data":{"name":"lijnen"},"mark":{"type":"rule","color":"#a3afc0","strokeWidth":3},"encoding":{"x":{"field":"dag","type":"quantitative"}}},
{"data":{"name":"groen"},"mark":{"type":"circle","color":"#eef6d8","opacity":0.3,"size":5000},"encoding":{"x":{"field":"dag","type":"quantitative"},"y":{"field":"t","type":"quantitative"}}},
{"data":{"name":"lichtblauw"},"mark":{"type":"circle","color":"#dcecfb","opacity":0.4,"size":4200},"encoding":{"x":{"field":"dag","type":"quantitative"},"y":{"field":"t","type":"quantitative"}}},
{"data":{"name":"grijs"},"mark":{"type":"circle","color":"#dbe5f1","opacity":0.3,"size":6500},"encoding":{"x":{"field":"dag","type":"quantitative"},"y":{"field":"t","type":"quantitative"}}},
{"data":{"name":"merk"},"mark":{"type":"text","align":"right","baseline":"alphabetic","font":"DejaVu Sans","fontSize":97,"fontWeight":"bold","color":"#dbeafe","opacity":0.45},"encoding":{"x":{"field":"dag","type":"quantitative"},"y":{"field":"t","type":"quantitative"},"text":{"field":"tekst"}}},
{"data":{"name":"dagen"},"mark":{"type":"area","color":"#bfdbfe","opacity":0.18},"encoding":{"x":{"field":"dag","type":"quantitative"},"y":{"field":"nmin","type":"quantitative"},"y2":{"field":"nmax"}}},
{"data":{"name":"dagen"},"transform":[{"fold":["nmin","nmax","ngem","min","max","gem"],"as":["reeks","waarde"]}],"mark":{"type":"line","strokeCap":"round","strokeJoin":"round"},"encoding":{"x":{"field":"dag","type":"quantitative"},"y":{"field":"waarde","type":"quantitative"},"color":{"field":"reeks","type":"nominal","scale":{"domain":["min","nmin","max","nmax","gem","ngem"],"range":["#60a5fa","#a1cbfb","#f87171","#fbaaaa","#6b7b92","#9aa5b6"]},"legend":{"orient":"none","legendX":7,"legendY":-67,"direction":"horizontal","columns":6,"columnPadding":16,"title":null,"symbolType":"stroke","symbolSize":4489,"symbolStrokeWidth":4.5,"labelOffset":9.5,"labelFont":"DejaVu Sans","labelFontSize":27,"labelFontWeight":"bold","labelColor":"#1e293b","labelLimit":400,"labelExpr":"{'min':'Minimum','nmin':'Normaal\u00a0\u00a0\u00a0\u00a0\u00a0\u00a0\u200b','max':'Maximum','nmax':'Normaal\u00a0\u00a0\u00a0\u00a0\u00a0\u00a0\u00a0\u00a0\u00a0\u200b','gem':'Gemiddelde','ngem':'Normaal'}[datum.value]"}},"strokeDash":{"field":"reeks","type":"nominal","scale":{"domain":["min","nmin","max","nmax","gem","ngem"],"range":[[1,0],[7,8],[1,0],[7,8],[1,0],[7,8]]},"legend":{"title":null}},"strokeWidth":{"field":"reeks","type":"nominal","scale":{"domain":["min","nmin","max","nmax","gem","ngem"],"range":[4.6,4,4.6,4,4.2,3.8]},"legend":null}}},
{"data":{"name":"kop"},"mark":{"type":"text","align":"right","baseline":"alphabetic","dy":-98,"font":"DejaVu Sans","fontSize":32.6,"fontWeight":"bold","color":"#0f172a"},"encoding":{"x":{"field":"dag","type":"quantitative"},"y":{"field":"t","type":"quantitative"},"text":{"field":"tekst"}}}
]}
